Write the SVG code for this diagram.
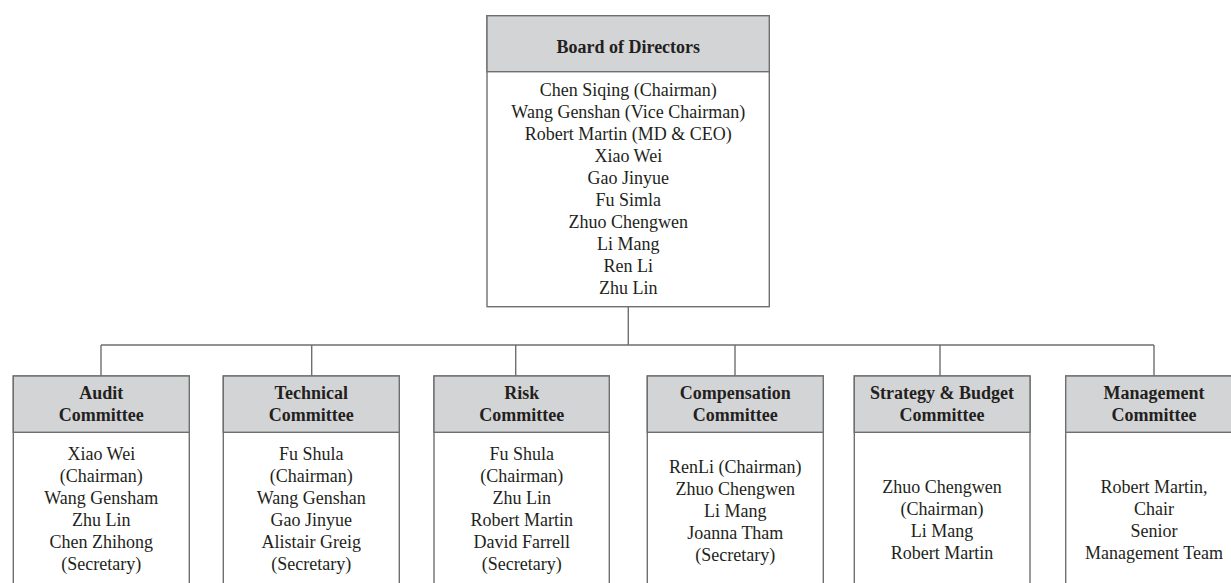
<svg xmlns="http://www.w3.org/2000/svg" width="1231" height="583" viewBox="0 0 1231 583">
<style>
.box{fill:#ffffff;stroke:#6f6f6f;stroke-width:1.4}
.hdr{fill:#d3d4d6;stroke:#6f6f6f;stroke-width:1.4}
.ln{fill:none;stroke:#6f6f6f;stroke-width:1.4}
text{font-family:"Liberation Serif","Times New Roman",serif;font-size:18px;fill:#231f20;text-anchor:middle}
.b{font-weight:bold}
</style>
<rect width="1231" height="583" fill="#ffffff"/>
<g id="connectors">
<path class="ln" d="M628.3,307 V345 M101,345 H1154 M101,345 V376 M311.7,345 V376 M515.7,345 V376 M735,345 V376 M940,345 V376 M1154,345 V376"/>
</g>
<g id="board">
<rect class="box" x="487" y="15.7" width="282.3" height="291"/>
<rect class="hdr" x="487" y="15.7" width="282.3" height="56"/>
<text class="b" x="628.3" y="53">Board of Directors</text>
<text x="628.3" y="96">Chen Siqing (Chairman)</text>
<text x="628.3" y="118">Wang Genshan (Vice Chairman)</text>
<text x="628.3" y="140">Robert Martin (MD &amp; CEO)</text>
<text x="628.3" y="162">Xiao Wei</text>
<text x="628.3" y="184">Gao Jinyue</text>
<text x="628.3" y="206">Fu Simla</text>
<text x="628.3" y="228">Zhuo Chengwen</text>
<text x="628.3" y="250">Li Mang</text>
<text x="628.3" y="272">Ren Li</text>
<text x="628.3" y="294">Zhu Lin</text>
</g>
<g id="audit">
<rect class="box" x="13.3" y="376" width="176" height="230"/>
<rect class="hdr" x="13.3" y="376" width="176" height="56.3"/>
<text class="b" x="101.3" y="399">Audit</text>
<text class="b" x="101.3" y="421">Committee</text>
<text x="101.3" y="460">Xiao Wei</text>
<text x="101.3" y="482">(Chairman)</text>
<text x="101.3" y="504">Wang Gensham</text>
<text x="101.3" y="526">Zhu Lin</text>
<text x="101.3" y="548">Chen Zhihong</text>
<text x="101.3" y="570">(Secretary)</text>
</g>
<g id="technical">
<rect class="box" x="223.3" y="376" width="176" height="230"/>
<rect class="hdr" x="223.3" y="376" width="176" height="56.3"/>
<text class="b" x="311.3" y="399">Technical</text>
<text class="b" x="311.3" y="421">Committee</text>
<text x="311.3" y="460">Fu Shula</text>
<text x="311.3" y="482">(Chairman)</text>
<text x="311.3" y="504">Wang Genshan</text>
<text x="311.3" y="526">Gao Jinyue</text>
<text x="311.3" y="548">Alistair Greig</text>
<text x="311.3" y="570">(Secretary)</text>
</g>
<g id="risk">
<rect class="box" x="434" y="376" width="175.3" height="230"/>
<rect class="hdr" x="434" y="376" width="175.3" height="56.3"/>
<text class="b" x="521.7" y="399">Risk</text>
<text class="b" x="521.7" y="421">Committee</text>
<text x="521.7" y="460">Fu Shula</text>
<text x="521.7" y="482">(Chairman)</text>
<text x="521.7" y="504">Zhu Lin</text>
<text x="521.7" y="526">Robert Martin</text>
<text x="521.7" y="548">David Farrell</text>
<text x="521.7" y="570">(Secretary)</text>
</g>
<g id="compensation">
<rect class="box" x="647.3" y="376" width="176" height="230"/>
<rect class="hdr" x="647.3" y="376" width="176" height="56.3"/>
<text class="b" x="735.3" y="399">Compensation</text>
<text class="b" x="735.3" y="421">Committee</text>
<text x="735.3" y="473">RenLi (Chairman)</text>
<text x="735.3" y="495">Zhuo Chengwen</text>
<text x="735.3" y="517">Li Mang</text>
<text x="735.3" y="539">Joanna Tham</text>
<text x="735.3" y="561">(Secretary)</text>
</g>
<g id="strategy">
<rect class="box" x="854.3" y="376" width="175.7" height="230"/>
<rect class="hdr" x="854.3" y="376" width="175.7" height="56.3"/>
<text class="b" x="942" y="399">Strategy &amp; Budget</text>
<text class="b" x="942" y="421">Committee</text>
<text x="942" y="493">Zhuo Chengwen</text>
<text x="942" y="515">(Chairman)</text>
<text x="942" y="537">Li Mang</text>
<text x="942" y="559">Robert Martin</text>
</g>
<g id="management">
<rect class="box" x="1065.7" y="376" width="176" height="230"/>
<rect class="hdr" x="1065.7" y="376" width="176" height="56.3"/>
<text class="b" x="1154" y="399">Management</text>
<text class="b" x="1154" y="421">Committee</text>
<text x="1154" y="493">Robert Martin,</text>
<text x="1154" y="515">Chair</text>
<text x="1154" y="537">Senior</text>
<text x="1154" y="559">Management Team</text>
</g>
</svg>
